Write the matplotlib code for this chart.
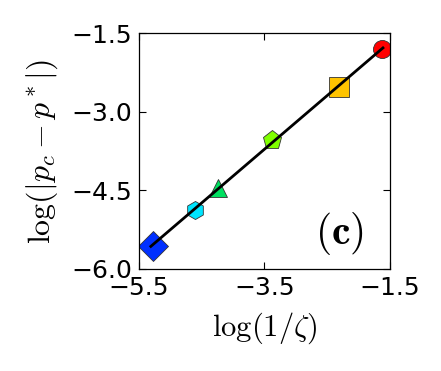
import numpy as np
import matplotlib
matplotlib.use("Agg")
import matplotlib.pyplot as plt

plt.rcParams["mathtext.fontset"] = "cm"
plt.rcParams["font.family"] = ["DejaVu Sans"]

# log(1/zeta) and log(|p_c - p*|)
log_inv_zeta = [-5.28, -4.61, -4.24, -3.385, -2.31, -1.62]
log_dp = [-5.56, -4.87, -4.46, -3.54, -2.52, -1.81]
markers = ["D", "h", "^", "p", "s", "o"]
colors = ["#0030ff", "#00e5ff", "#00e060", "#80ff00", "#ffc400", "#ff0000"]
sizes = [15, 13, 13, 14, 14, 13]

xticks = [-5.5, -3.5, -1.5]
yticks = [-6.0, -4.5, -3.0, -1.5]

fig = plt.figure(figsize=(4.41, 3.71), dpi=100)
ax = fig.add_axes([0.315, 0.275, 0.569, 0.636])

for x, y, m, c, s in zip(log_inv_zeta, log_dp, markers, colors, sizes):
    ax.plot(x, y, m, color=c, markersize=s, markeredgecolor="#333333",
            markeredgewidth=0.6, zorder=2)

# linear fit through the points
k, b = np.polyfit(log_inv_zeta, log_dp, 1)
xs = np.array([min(log_inv_zeta) - 0.03, max(log_inv_zeta) + 0.01])
ax.plot(xs, k * xs + b, "-", color="k", lw=2.0, zorder=3)

ax.set_xlim(-5.5, -1.5)
ax.set_ylim(-6.0, -1.5)
ax.set_xticks(xticks)
ax.set_yticks(yticks)
ax.set_xticklabels([f"{t:.1f}".replace("-", "\u2212") for t in xticks])
ax.set_yticklabels([f"{t:.1f}".replace("-", "\u2212") for t in yticks])
ax.tick_params(direction="in", top=True, right=True, labelsize=18, length=5,
               width=0.8, pad=5)
for sp in ax.spines.values():
    sp.set_linewidth(0.9)

ax.set_xlabel(r"$\log(1/\zeta)$", fontsize=22, labelpad=8)
ax.set_ylabel(r"$\log(|p_c-p^*|)$", fontsize=23, labelpad=8)
ax.text(0.80, 0.15, r"$\mathbf{(c)}$", transform=ax.transAxes, fontsize=30,
        ha="center", va="center")

fig.savefig("out.png", dpi=100)
